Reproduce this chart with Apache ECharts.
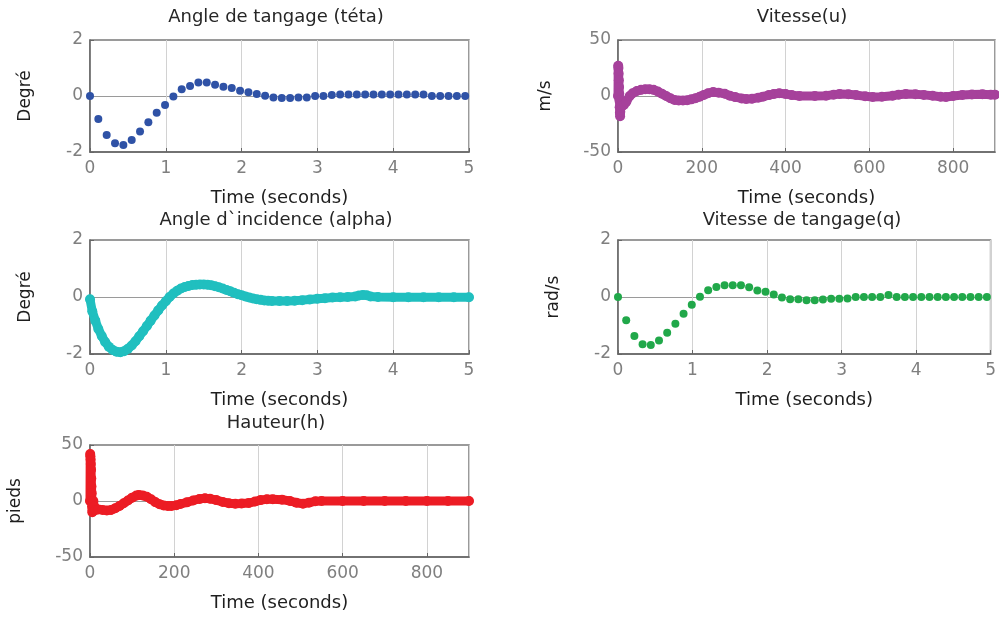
<!doctype html>
<html lang="fr">
<head>
<meta charset="utf-8">
<title>Réponses temporelles</title>
<script src="https://cdn.jsdelivr.net/npm/echarts@6/dist/echarts.min.js"></script>
<style>
  * { margin: 0; padding: 0; }
  html, body { width: 100%; height: 100%; background: #fff; }
  #main { width: 999px; height: 617px; }
</style>
</head>
<body>
<div id="main"></div>
<script type="text/javascript">
// sample step of the sparse series (seconds)
var sampleStep = 0.11;

// Angle de tangage (téta), degrés
var tetaVals = [0, -0.82, -1.39, -1.69, -1.75, -1.57, -1.27, -0.94, -0.60, -0.32,
    -0.02, 0.24, 0.36, 0.48, 0.48, 0.40, 0.33, 0.29, 0.19, 0.13,
    0.07, 0.01, -0.05, -0.07, -0.07, -0.05, -0.05, 0, 0, 0.04,
    0.05, 0.05, 0.05, 0.05, 0.05, 0.05, 0.05, 0.05, 0.05, 0.05,
    0.05, 0, 0, 0, 0, 0];

// Vitesse de tangage (q), rad/s
var qVals = [0, -0.82, -1.37, -1.66, -1.68, -1.53, -1.25, -0.94, -0.59, -0.27,
    0.01, 0.24, 0.35, 0.41, 0.41, 0.41, 0.34, 0.23, 0.18, 0.09,
    -0.02, -0.08, -0.08, -0.11, -0.11, -0.09, -0.06, -0.06, -0.05, 0,
    0, 0, 0, 0.07, 0, 0, 0, 0, 0, 0,
    0, 0, 0, 0, 0, 0];

// Angle d'incidence (alpha) : [temps, degrés]
var alphaPts = [[0, -0.08], [0.03, -0.5], [0.07, -0.83], [0.11, -1.12], [0.155, -1.37],
    [0.2, -1.58], [0.25, -1.75], [0.3, -1.86], [0.35, -1.92], [0.4, -1.94],
    [0.45, -1.9], [0.5, -1.82], [0.55, -1.7], [0.6, -1.55], [0.65, -1.38],
    [0.7, -1.2], [0.75, -1.02], [0.8, -0.83], [0.85, -0.65], [0.9, -0.47],
    [0.95, -0.3], [1.0, -0.15], [1.05, 0], [1.1, 0.12], [1.15, 0.22],
    [1.2, 0.3], [1.25, 0.35], [1.3, 0.39], [1.35, 0.42], [1.4, 0.43],
    [1.45, 0.44], [1.5, 0.44], [1.55, 0.43], [1.6, 0.41], [1.65, 0.38],
    [1.7, 0.34], [1.75, 0.3], [1.8, 0.25], [1.85, 0.2], [1.9, 0.15],
    [1.95, 0.1], [2.0, 0.06], [2.05, 0.02], [2.1, -0.02], [2.15, -0.05],
    [2.2, -0.08], [2.25, -0.1], [2.3, -0.12], [2.35, -0.13], [2.4, -0.14],
    [2.5, -0.14], [2.6, -0.14], [2.7, -0.13], [2.8, -0.11], [2.9, -0.09],
    [3.0, -0.06], [3.1, -0.04], [3.2, -0.02], [3.3, -0.01], [3.4, 0],
    [3.5, 0.02], [3.55, 0.05], [3.6, 0.07], [3.65, 0.06], [3.7, 0.02],
    [3.8, 0], [4.0, -0.01], [4.2, -0.01], [4.4, -0.01], [4.6, -0.01],
    [4.8, -0.01], [5.0, -0.01]];

// Vitesse (u), m/s : [temps, valeur]
var uPts = [[0, 0], [0.5, 27], [1, 25], [1.5, 20], [2, 14], [2.5, 8], [3, 2],
    [3.5, -4], [4, -10], [4.5, -15], [5, -18], [5.5, -14], [6, -10], [8, -8],
    [10, -9], [14, -8], [20, -5], [28, 0], [35, 2.5], [45, 4.5], [55, 5.5],
    [65, 6], [75, 6], [85, 5.5], [95, 4], [105, 2], [115, 0], [125, -2],
    [135, -3.5], [145, -4], [155, -4], [165, -3.8], [175, -3], [185, -2],
    [195, -0.6], [205, 1], [215, 2.5], [227, 3.5], [240, 3], [255, 2],
    [267, 0.3], [280, -1], [295, -2.2], [306, -2.7], [320, -2.4], [335, -1.5],
    [346, -0.6], [360, 0.8], [372, 1.8], [385, 2.4], [400, 1.8], [415, 0.8],
    [433, 0], [470, 0], [497, 0.3], [515, 1.2], [529, 1.8], [550, 1.5],
    [568, 0.9], [590, -0.3], [608, -0.9], [630, -0.6], [656, 0.3], [670, 1.2],
    [687, 1.8], [710, 1.6], [730, 1], [751, 0.3], [770, -0.6], [783, -0.9],
    [800, 0], [822, 0.9], [845, 1.3], [870, 1.5], [890, 1.2], [900, 1.2]];

// Hauteur (h), pieds : [temps, valeur]
var hPts = [[0, 0], [0.5, 42], [1, 40], [1.5, 37], [2, 33], [2.5, 28], [3, 20],
    [3.5, 13], [4, 7], [4.5, 0], [5, -5], [5.5, -10], [6, -8], [7, -3], [8, 0],
    [10, -5], [13, -8], [20, -7.5], [30, -8], [40, -8.4], [50, -8], [60, -6.5],
    [70, -4.5], [80, -2], [90, 0.5], [100, 3], [110, 4.8], [116, 5.4], [125, 5],
    [135, 3.8], [145, 1.5], [155, -1], [165, -2.8], [175, -4], [185, -4.5],
    [193, -4.5], [205, -3.8], [215, -2.7], [230, -1.2], [245, 0.5], [260, 1.8],
    [273, 2.4], [285, 2], [300, 0.8], [315, -0.8], [330, -2], [345, -2.4],
    [360, -2.2], [377, -1.8], [392, -0.5], [405, 0.8], [420, 1.5], [434, 1.6],
    [456, 1.2], [475, 0], [490, -1.5], [506, -2.4], [520, -1.5], [535, -0.3],
    [550, 0], [600, 0], [650, 0], [700, 0], [750, 0], [800, 0], [850, 0], [900, 0]];

var titles = ['Angle de tangage (téta)', 'Vitesse(u)', 'Angle d`incidence (alpha)',
    'Vitesse de tangage(q)', 'Hauteur(h)'];
var yNames = ['Degré', 'm/s', 'Degré', 'rad/s', 'pieds'];
var xName = 'Time (seconds)';

function withTime(vals) {
    return vals.map(function (v, i) { return [+(i * sampleStep).toFixed(3), v]; });
}

var FONT = '"DejaVu Sans", "Liberation Sans", Arial, sans-serif';
var grids = [
    {left: 90, top: 40, width: 379, height: 112},
    {left: 618, top: 40, width: 377, height: 112},
    {left: 90, top: 240, width: 379, height: 114},
    {left: 618, top: 240, width: 377, height: 114},
    {left: 90, top: 445, width: 379, height: 112}
];
var yGaps = [56, 64, 56, 56, 66];
var longTime = [false, true, false, false, true];

var xAxes = [], yAxes = [];
grids.forEach(function (g, i) {
    g.show = true;
    g.borderColor = '#7a7a7a';
    g.borderWidth = 1.5;
    xAxes.push({
        type: 'value', gridIndex: i,
        min: 0, max: longTime[i] ? 900 : 5, interval: longTime[i] ? 200 : 1,
        name: xName, nameLocation: 'middle', nameGap: 37,
        nameTextStyle: {color: '#1e1e1e', fontSize: 18, fontFamily: FONT},
        axisLine: {onZero: false, lineStyle: {color: '#666', width: 1.5}},
        axisTick: {inside: true, length: 4, lineStyle: {color: '#666'}},
        axisLabel: {color: '#7f7f7f', fontSize: 17, fontFamily: FONT, margin: 8,
            showMaxLabel: !longTime[i]},
        splitLine: {show: true, lineStyle: {color: '#d2d2d2', width: 1}}
    });
    yAxes.push({
        type: 'value', gridIndex: i,
        min: longTime[i] ? -50 : -2, max: longTime[i] ? 50 : 2, interval: longTime[i] ? 50 : 2,
        name: yNames[i], nameLocation: 'middle', nameRotate: 90, nameGap: yGaps[i],
        nameTextStyle: {color: '#1e1e1e', fontSize: 17, fontFamily: FONT},
        axisLine: {onZero: false, lineStyle: {color: '#666', width: 1.5}},
        axisTick: {inside: true, length: 4, lineStyle: {color: '#666'}},
        axisLabel: {color: '#7f7f7f', fontSize: 17, fontFamily: FONT, margin: 7},
        splitLine: {show: true, lineStyle: {color: '#9a9a9a', width: 1}}
    });
});

function dots(idx, data, color, size) {
    return {
        type: 'scatter', xAxisIndex: idx, yAxisIndex: idx,
        data: data, symbolSize: size, itemStyle: {color: color, opacity: 1}
    };
}
function band(idx, data, color) {
    return {
        type: 'line', xAxisIndex: idx, yAxisIndex: idx, data: data,
        symbol: 'circle', symbolSize: 10, showSymbol: true, smooth: false,
        lineStyle: {color: color, width: 9, cap: 'round', join: 'round'},
        itemStyle: {color: color}
    };
}

var titleCenters = [[276, 17], [802, 17], [276, 220], [802, 220], [276, 423]];
var graphics = titles.map(function (t, i) {
    return {
        type: 'text', x: titleCenters[i][0], y: titleCenters[i][1],
        style: {text: t, fill: '#262626', font: '18px ' + FONT,
            align: 'center', verticalAlign: 'middle', textAlign: 'center', textVerticalAlign: 'middle'}
    };
});

var myChart = echarts.init(document.getElementById('main'), null, {renderer: 'canvas'});
myChart.setOption({
    animation: false,
    backgroundColor: '#fff',
    grid: grids,
    xAxis: xAxes,
    yAxis: yAxes,
    graphic: graphics,
    series: [
        dots(0, withTime(tetaVals), '#2f52a6', 8),
        band(1, uPts, '#a6419b'),
        band(2, alphaPts, '#20bfbf'),
        dots(3, withTime(qVals), '#21a84a', 8),
        band(4, hPts, '#ec1c24')
    ]
});
</script>
</body>
</html>
